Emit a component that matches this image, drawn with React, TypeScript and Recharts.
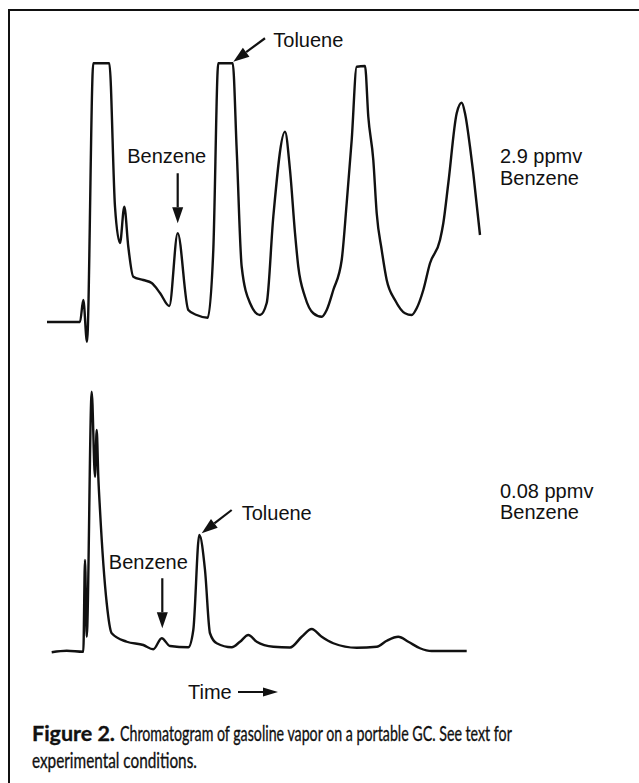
import { Line, LineChart, ReferenceDot, ReferenceLine, XAxis, YAxis } from "recharts";

// upper run: 2.9 ppmv benzene (time in arbitrary units, response in % of full scale)
const upperTime = [
  0, 3.3, 3.63, 4.0, 4.63, 6.23, 6.8, 7.3, 7.73, 8.13, 8.63, 9.63, 10.47, 11.3, 12.23, 13.07,
  14.13, 14.97, 16.07, 16.63, 17.13, 18.57, 18.97, 19.47, 20.3, 21.3, 21.97, 22.63, 23.8, 24.3,
  24.8, 25.13, 25.8, 26.63, 27.47, 27.97, 28.63, 29.47, 29.97, 30.47, 30.97, 31.8, 32.13, 32.63,
  32.97, 33.47, 33.97, 34.8, 35.8, 36.47, 36.97, 37.63, 38.3, 39.3, 39.63, 40.13, 40.97, 41.47,
  41.8, 42.3, 42.63, 43.3,
];
const upperResponse = [
  0, 0, 8.8, -7.9, 103.5, 103.5, 46.1, 31.6, 46.1, 30.1, 18.1, 16.8, 15.6, 11.6, 6.4, 35.5,
  4.8, 2.8, 1.7, 28.8, 103.5, 103.5, 68.8, 22.1, 7.6, 2.8, 7.6, 42.1, 76.1, 60.8,
  35.6, 22.1, 10.1, 3.5, 2.1, 4.8, 12.8, 24.8, 47.6, 72.8, 102.1, 102.4, 82.1, 64.8,
  43.5, 28.8, 16.8, 8.8, 3.5, 2.8, 5.5, 12.8, 23.5, 32.8, 39.5, 55.5, 83.5, 87.7,
  83.5, 70.1, 59.5, 34.8,
];

// lower run: 0.08 ppmv benzene
const lowerTime = [
  0.47, 1.97, 3.63, 3.8, 3.97, 4.47, 4.8, 4.97, 5.13, 5.3, 5.97, 6.47, 7.97, 9.63, 10.63, 11.47,
  12.3, 14.13, 14.63, 15.23, 15.8, 16.3, 16.97, 18.47, 19.3, 20.13, 20.97, 22.63, 24.3, 25.47,
  26.47, 27.47, 28.63, 30.97, 32.97, 33.97, 35.13, 36.13, 37.3, 38.47, 41.97,
];
const lowerResponse = [
  -0.5, 0.1, -0.3, 36.4, 5.7, 103.7, 69.7, 88.4, 69.7, 56.4, 19.2, 7.1, 3.7, 2.4, 0.7, 5.1,
  2.0, 1.5, 8.4, 46.4, 32.4, 7.1, 3.1, 1.5, 3.7, 6.4, 3.7, 1.7, 1.4, 5.7,
  8.8, 5.7, 3.1, 1.3, 1.7, 4.1, 5.7, 3.7, 1.1, 0, 0,
];

const upperData = upperTime.map((t, i) => ({ t, r: upperResponse[i] }));
const lowerData = lowerTime.map((t, i) => ({ t, r: lowerResponse[i] }));

const INK = "#111";
const LABEL_FONT = "'Liberation Sans', Arial, Helvetica, sans-serif";
const CAPTION_FONT = "Lato, 'Open Sans', sans-serif";

function Arrow(p: any) {
  const { x1, y1, x2, y2 } = p;
  const a = Math.atan2(y2 - y1, x2 - x1);
  const len = 16;
  const half = 5.5;
  const bx = x2 - len * Math.cos(a);
  const by = y2 - len * Math.sin(a);
  const px = -Math.sin(a) * half;
  const py = Math.cos(a) * half;
  return (
    <g>
      <line x1={x1} y1={y1} x2={bx} y2={by} stroke={INK} strokeWidth={2.2} />
      <polygon points={`${x2},${y2} ${bx + px},${by + py} ${bx - px},${by - py}`} fill={INK} />
    </g>
  );
}

function tag(text: string, anchor: "start" | "middle" | "end") {
  return (p: any) => (
    <text x={p.cx} y={p.cy} textAnchor={anchor} fontFamily={LABEL_FONT} fontSize={20} fill={INK}>
      {text}
    </text>
  );
}

// the caption face is condensed; squeeze a normal face to the measured width
let measureCtx: CanvasRenderingContext2D | null = null;
function naturalWidth(text: string, size: number, weight: number) {
  if (!measureCtx) measureCtx = document.createElement("canvas").getContext("2d");
  if (!measureCtx) return text.length * size * 0.5;
  measureCtx.font = `${weight} ${size}px Lato, 'Open Sans', sans-serif`;
  return measureCtx.measureText(text).width;
}

function Squeezed({ x, y, width, text, weight = 400 }: { x: number; y: number; width: number; text: string; weight?: number }) {
  const size = 21;
  const s = width / naturalWidth(text, size, weight);
  return (
    <text
      transform={`translate(${x},${y}) scale(${s},1)`}
      fontFamily={CAPTION_FONT}
      fontSize={size}
      fontWeight={weight}
      fill={INK}
      stroke={INK}
      strokeWidth={0.35}
    >
      {text}
    </text>
  );
}

export default function App() {
  return (
    <div
      style={{
        position: "absolute",
        left: 0,
        top: 0,
        width: 639,
        height: 783,
        background: "#fff",
        overflow: "hidden",
      }}
    >
      <div
        style={{
          position: "absolute",
          left: 8,
          top: 9,
          width: 660,
          height: 800,
          borderTop: `2px solid ${INK}`,
          borderLeft: `2px solid ${INK}`,
        }}
      />

      <div style={{ position: "absolute", left: 47, top: 22 }}>
        <LineChart width={450} height={335} data={upperData} margin={{ top: 0, right: 0, bottom: 0, left: 0 }}>
          <XAxis type="number" dataKey="t" domain={[0, 45]} hide allowDataOverflow />
          <YAxis type="number" domain={[-14, 120]} hide allowDataOverflow />
          <Line
            type="monotoneX"
            dataKey="r"
            stroke={INK}
            strokeWidth={2.4}
            strokeLinejoin="round"
            dot={false}
            isAnimationActive={false}
          />
          <ReferenceLine segment={[{ x: 21.8, y: 113.5 }, { x: 18.63, y: 104.1 }]} shape={Arrow} />
          <ReferenceDot x={22.63} y={109.9} r={0} shape={tag("Toluene", "start")} />
          <ReferenceLine segment={[{ x: 13.07, y: 59.5 }, { x: 13.07, y: 39.5 }]} shape={Arrow} />
          <ReferenceDot x={11.97} y={63.5} r={0} shape={tag("Benzene", "middle")} />
        </LineChart>
      </div>

      <div style={{ position: "absolute", left: 47, top: 376 }}>
        <LineChart width={450} height={300} data={lowerData} margin={{ top: 0, right: 0, bottom: 0, left: 0 }}>
          <XAxis type="number" dataKey="t" domain={[0, 45]} hide allowDataOverflow />
          <YAxis type="number" domain={[-10, 110]} hide allowDataOverflow />
          <Line
            type="monotoneX"
            dataKey="r"
            stroke={INK}
            strokeWidth={2.4}
            strokeLinejoin="round"
            dot={false}
            isAnimationActive={false}
          />
          <ReferenceLine segment={[{ x: 18.47, y: 56.4 }, { x: 15.47, y: 47.1 }]} shape={Arrow} />
          <ReferenceDot x={19.47} y={52.4} r={0} shape={tag("Toluene", "start")} />
          <ReferenceLine segment={[{ x: 11.53, y: 29.1 }, { x: 11.53, y: 9.1 }]} shape={Arrow} />
          <ReferenceDot x={10.13} y={32.8} r={0} shape={tag("Benzene", "middle")} />
        </LineChart>
      </div>

      <svg
        width={639}
        height={783}
        style={{ position: "absolute", left: 0, top: 0, pointerEvents: "none" }}
      >
        <g fontFamily={LABEL_FONT} fontSize={20} fill={INK}>
          <text x={500} y={163}>2.9 ppmv</text>
          <text x={500} y={185}>Benzene</text>
          <text x={500} y={498}>0.08 ppmv</text>
          <text x={500} y={519}>Benzene</text>
          <text x={188} y={699}>Time</text>
        </g>
        <line x1={238} y1={692} x2={266} y2={692} stroke={INK} strokeWidth={2} />
        <polygon points="278,692 263,687.5 263,696.5" fill={INK} />
        <Squeezed x={32} y={741} width={83} text="Figure 2." weight={700} />
        <Squeezed x={120} y={741} width={393} text="Chromatogram of gasoline vapor on a portable GC. See text for" />
        <Squeezed x={32} y={768} width={165} text="experimental conditions." />
      </svg>
    </div>
  );
}
